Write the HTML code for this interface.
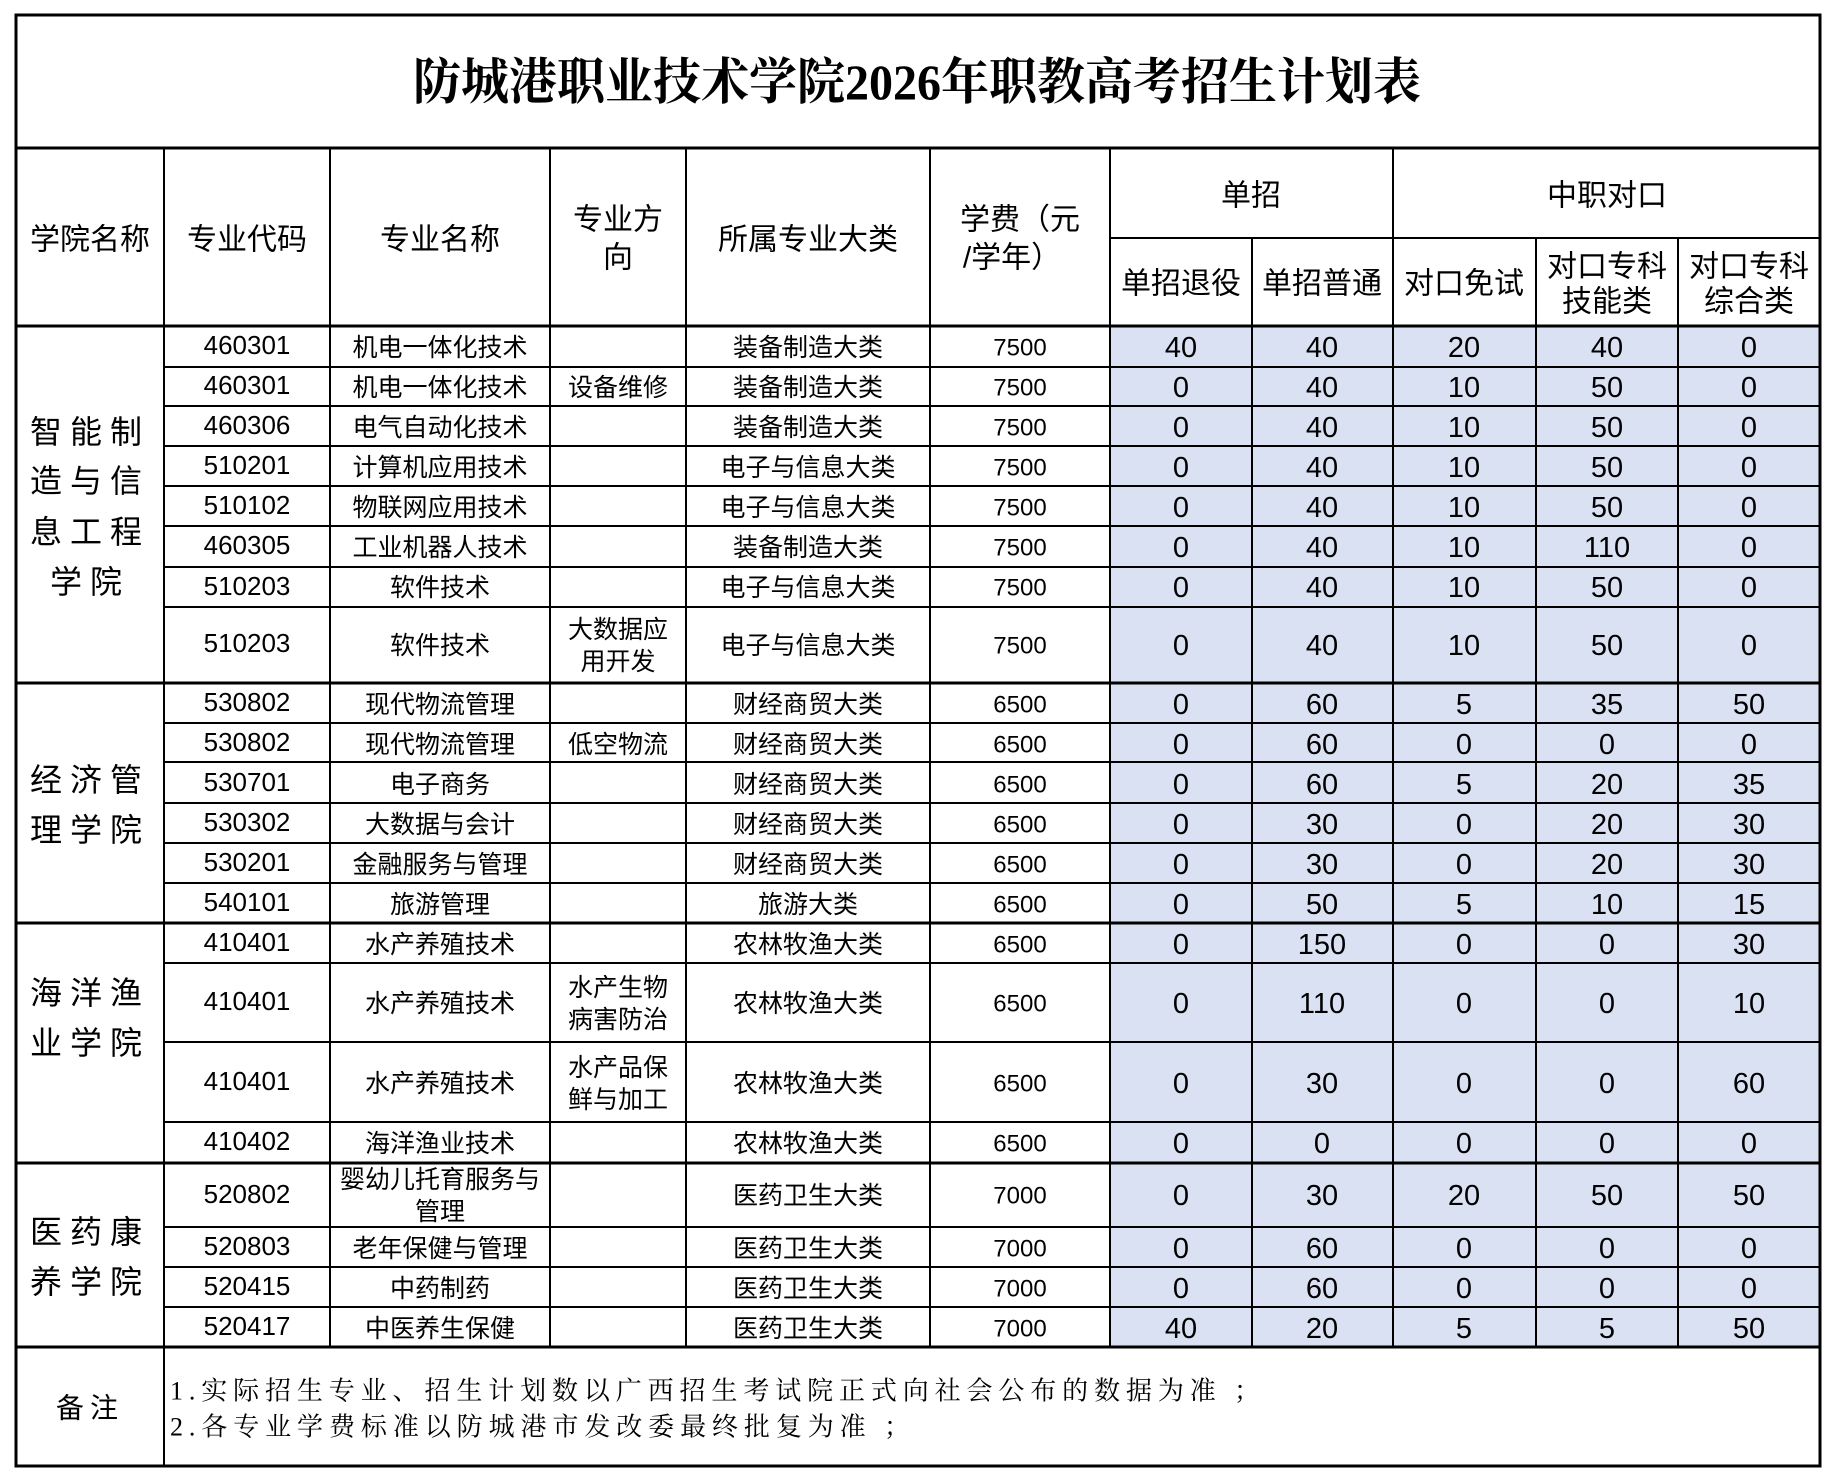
<!DOCTYPE html>
<html><head><meta charset="utf-8"><style>
html,body{margin:0;padding:0;background:#fff;width:1836px;height:1482px;overflow:hidden}
svg text{font-family:"Liberation Sans","Noto Sans CJK SC",sans-serif;fill:#000;text-anchor:middle;dominant-baseline:central}
.t{font-family:"Liberation Serif","Noto Serif CJK SC",serif;font-weight:bold;font-size:50px}
.h{font-size:30px}
.c{font-size:26px}
.n{font-size:25px}
.f{font-family:"Liberation Serif","Noto Serif CJK SC",serif;font-size:24px}
.d{font-size:29px}
.col{font-family:"Liberation Serif","Noto Serif CJK SC",serif;font-size:32px}
.r{font-family:"Liberation Serif","Noto Serif CJK SC",serif;font-size:26px;text-anchor:start}
</style></head><body>
<svg width="1836" height="1482" xmlns="http://www.w3.org/2000/svg">
<rect x="1110" y="326" width="710" height="1021" fill="#D9E1F2"/>
<g stroke="#000" stroke-width="2" fill="none">
<rect x="16" y="15" width="1804" height="1451" stroke-width="3"/>
<line x1="16" y1="148" x2="1820" y2="148" stroke-width="3"/>
<line x1="1110" y1="238" x2="1820" y2="238"/>
<line x1="16" y1="326" x2="1820" y2="326" stroke-width="3"/>
<line x1="164" y1="148" x2="164" y2="1466"/>
<line x1="330" y1="148" x2="330" y2="1347"/>
<line x1="550" y1="148" x2="550" y2="1347"/>
<line x1="686" y1="148" x2="686" y2="1347"/>
<line x1="930" y1="148" x2="930" y2="1347"/>
<line x1="1110" y1="148" x2="1110" y2="1347"/>
<line x1="1252" y1="238" x2="1252" y2="1347"/>
<line x1="1393" y1="148" x2="1393" y2="1347"/>
<line x1="1536" y1="238" x2="1536" y2="1347"/>
<line x1="1678" y1="238" x2="1678" y2="1347"/>
<path d="M164 367H1820M164 406H1820M164 446H1820M164 486H1820M164 526H1820M164 567H1820M164 607H1820M164 723H1820M164 762H1820M164 803H1820M164 843H1820M164 883H1820M164 963H1820M164 1042H1820M164 1122H1820M164 1227H1820M164 1267H1820M164 1307H1820"/>
<path d="M16 683H1820M16 923H1820M16 1163H1820M16 1347H1820" stroke-width="3"/>
</g>
<text class="t" x="917" y="82" textLength="1008" lengthAdjust="spacingAndGlyphs">防城港职业技术学院2026年职教高考招生计划表</text>
<g class="h">
<text x="90" y="240">学院名称</text><text x="247" y="240">专业代码</text><text x="440" y="240">专业名称</text>
<text x="618" y="220">专业方</text><text x="618" y="258">向</text>
<text x="808" y="240">所属专业大类</text>
<text x="1020" y="220">学费（元</text><text x="1012" y="258">/学年）</text>
<text x="1251" y="196">单招</text><text x="1607" y="196">中职对口</text>
<text x="1181" y="284">单招退役</text><text x="1322" y="284">单招普通</text><text x="1464" y="284">对口免试</text>
<text x="1607" y="267">对口专科</text><text x="1607" y="302">技能类</text>
<text x="1749" y="267">对口专科</text><text x="1749" y="302">综合类</text>
</g>
<g class="col">
<text x="90" y="432" letter-spacing="8">智能制</text><text x="90" y="481" letter-spacing="8">造与信</text><text x="90" y="532" letter-spacing="8">息工程</text><text x="90" y="582" letter-spacing="8">学院</text>
<text x="90" y="780" letter-spacing="8">经济管</text><text x="90" y="830" letter-spacing="8">理学院</text>
<text x="90" y="993" letter-spacing="8">海洋渔</text><text x="90" y="1043" letter-spacing="8">业学院</text>
<text x="90" y="1232" letter-spacing="8">医药康</text><text x="90" y="1282" letter-spacing="8">养学院</text>
<text x="90" y="1408" style="font-size:28px" letter-spacing="6">备注</text>
</g>
<text class="r" x="170" y="1391" textLength="1090" lengthAdjust="spacing">1.实际招生专业、招生计划数以广西招生考试院正式向社会公布的数据为准 ；</text>
<text class="r" x="170" y="1427" textLength="740" lengthAdjust="spacing">2.各专业学费标准以防城港市发改委最终批复为准 ；</text>

<g class="c">
<text x="247" y="345">460301</text><text x="247" y="385">460301</text><text x="247" y="425">460306</text><text x="247" y="465">510201</text><text x="247" y="505">510102</text><text x="247" y="545">460305</text><text x="247" y="586">510203</text><text x="247" y="643">510203</text>
<text x="247" y="702">530802</text><text x="247" y="742">530802</text><text x="247" y="782">530701</text><text x="247" y="822">530302</text><text x="247" y="862">530201</text><text x="247" y="902">540101</text>
<text x="247" y="942">410401</text><text x="247" y="1001">410401</text><text x="247" y="1081">410401</text><text x="247" y="1141">410402</text>
<text x="247" y="1194">520802</text><text x="247" y="1246">520803</text><text x="247" y="1286">520415</text><text x="247" y="1326">520417</text>
</g>
<g class="n">
<text x="440" y="348">机电一体化技术</text><text x="440" y="388">机电一体化技术</text><text x="440" y="428">电气自动化技术</text><text x="440" y="468">计算机应用技术</text><text x="440" y="508">物联网应用技术</text><text x="440" y="548">工业机器人技术</text><text x="440" y="588">软件技术</text><text x="440" y="646">软件技术</text>
<text x="440" y="705">现代物流管理</text><text x="440" y="745">现代物流管理</text><text x="440" y="785">电子商务</text><text x="440" y="825">大数据与会计</text><text x="440" y="865">金融服务与管理</text><text x="440" y="905">旅游管理</text>
<text x="440" y="945">水产养殖技术</text><text x="440" y="1004">水产养殖技术</text><text x="440" y="1084">水产养殖技术</text><text x="440" y="1144">海洋渔业技术</text>
<text x="440" y="1180">婴幼儿托育服务与</text><text x="440" y="1212">管理</text><text x="440" y="1249">老年保健与管理</text><text x="440" y="1289">中药制药</text><text x="440" y="1329">中医养生保健</text>
<text x="618" y="388">设备维修</text><text x="618" y="630">大数据应</text><text x="618" y="662">用开发</text><text x="618" y="745">低空物流</text>
<text x="618" y="988">水产生物</text><text x="618" y="1020">病害防治</text><text x="618" y="1068">水产品保</text><text x="618" y="1100">鲜与加工</text>
</g>
<g class="n">
<text x="808" y="348">装备制造大类</text><text x="808" y="388">装备制造大类</text><text x="808" y="428">装备制造大类</text><text x="808" y="468">电子与信息大类</text><text x="808" y="508">电子与信息大类</text><text x="808" y="548">装备制造大类</text><text x="808" y="588">电子与信息大类</text><text x="808" y="646">电子与信息大类</text>
<text x="808" y="705">财经商贸大类</text><text x="808" y="745">财经商贸大类</text><text x="808" y="785">财经商贸大类</text><text x="808" y="825">财经商贸大类</text><text x="808" y="865">财经商贸大类</text><text x="808" y="905">旅游大类</text>
<text x="808" y="945">农林牧渔大类</text><text x="808" y="1004">农林牧渔大类</text><text x="808" y="1084">农林牧渔大类</text><text x="808" y="1144">农林牧渔大类</text>
<text x="808" y="1196">医药卫生大类</text><text x="808" y="1249">医药卫生大类</text><text x="808" y="1289">医药卫生大类</text><text x="808" y="1329">医药卫生大类</text>
</g>
<g class="f">
<text x="1020" y="348">7500</text><text x="1020" y="388">7500</text><text x="1020" y="428">7500</text><text x="1020" y="468">7500</text><text x="1020" y="508">7500</text><text x="1020" y="548">7500</text><text x="1020" y="588">7500</text><text x="1020" y="646">7500</text>
<text x="1020" y="705">6500</text><text x="1020" y="745">6500</text><text x="1020" y="785">6500</text><text x="1020" y="825">6500</text><text x="1020" y="865">6500</text><text x="1020" y="905">6500</text>
<text x="1020" y="945">6500</text><text x="1020" y="1004">6500</text><text x="1020" y="1084">6500</text><text x="1020" y="1144">6500</text>
<text x="1020" y="1196">7000</text><text x="1020" y="1249">7000</text><text x="1020" y="1289">7000</text><text x="1020" y="1329">7000</text>
</g>
<g class="d">
<text x="1181" y="348">40</text><text x="1322" y="348">40</text><text x="1464" y="348">20</text><text x="1607" y="348">40</text><text x="1749" y="348">0</text>
<text x="1181" y="388">0</text><text x="1322" y="388">40</text><text x="1464" y="388">10</text><text x="1607" y="388">50</text><text x="1749" y="388">0</text>
<text x="1181" y="428">0</text><text x="1322" y="428">40</text><text x="1464" y="428">10</text><text x="1607" y="428">50</text><text x="1749" y="428">0</text>
<text x="1181" y="468">0</text><text x="1322" y="468">40</text><text x="1464" y="468">10</text><text x="1607" y="468">50</text><text x="1749" y="468">0</text>
<text x="1181" y="508">0</text><text x="1322" y="508">40</text><text x="1464" y="508">10</text><text x="1607" y="508">50</text><text x="1749" y="508">0</text>
<text x="1181" y="548">0</text><text x="1322" y="548">40</text><text x="1464" y="548">10</text><text x="1607" y="548">110</text><text x="1749" y="548">0</text>
<text x="1181" y="588">0</text><text x="1322" y="588">40</text><text x="1464" y="588">10</text><text x="1607" y="588">50</text><text x="1749" y="588">0</text>
<text x="1181" y="646">0</text><text x="1322" y="646">40</text><text x="1464" y="646">10</text><text x="1607" y="646">50</text><text x="1749" y="646">0</text>
<text x="1181" y="705">0</text><text x="1322" y="705">60</text><text x="1464" y="705">5</text><text x="1607" y="705">35</text><text x="1749" y="705">50</text>
<text x="1181" y="745">0</text><text x="1322" y="745">60</text><text x="1464" y="745">0</text><text x="1607" y="745">0</text><text x="1749" y="745">0</text>
<text x="1181" y="785">0</text><text x="1322" y="785">60</text><text x="1464" y="785">5</text><text x="1607" y="785">20</text><text x="1749" y="785">35</text>
<text x="1181" y="825">0</text><text x="1322" y="825">30</text><text x="1464" y="825">0</text><text x="1607" y="825">20</text><text x="1749" y="825">30</text>
<text x="1181" y="865">0</text><text x="1322" y="865">30</text><text x="1464" y="865">0</text><text x="1607" y="865">20</text><text x="1749" y="865">30</text>
<text x="1181" y="905">0</text><text x="1322" y="905">50</text><text x="1464" y="905">5</text><text x="1607" y="905">10</text><text x="1749" y="905">15</text>
<text x="1181" y="945">0</text><text x="1322" y="945">150</text><text x="1464" y="945">0</text><text x="1607" y="945">0</text><text x="1749" y="945">30</text>
<text x="1181" y="1004">0</text><text x="1322" y="1004">110</text><text x="1464" y="1004">0</text><text x="1607" y="1004">0</text><text x="1749" y="1004">10</text>
<text x="1181" y="1084">0</text><text x="1322" y="1084">30</text><text x="1464" y="1084">0</text><text x="1607" y="1084">0</text><text x="1749" y="1084">60</text>
<text x="1181" y="1144">0</text><text x="1322" y="1144">0</text><text x="1464" y="1144">0</text><text x="1607" y="1144">0</text><text x="1749" y="1144">0</text>
<text x="1181" y="1196">0</text><text x="1322" y="1196">30</text><text x="1464" y="1196">20</text><text x="1607" y="1196">50</text><text x="1749" y="1196">50</text>
<text x="1181" y="1249">0</text><text x="1322" y="1249">60</text><text x="1464" y="1249">0</text><text x="1607" y="1249">0</text><text x="1749" y="1249">0</text>
<text x="1181" y="1289">0</text><text x="1322" y="1289">60</text><text x="1464" y="1289">0</text><text x="1607" y="1289">0</text><text x="1749" y="1289">0</text>
<text x="1181" y="1329">40</text><text x="1322" y="1329">20</text><text x="1464" y="1329">5</text><text x="1607" y="1329">5</text><text x="1749" y="1329">50</text>
</g>
</svg>
</body></html>
